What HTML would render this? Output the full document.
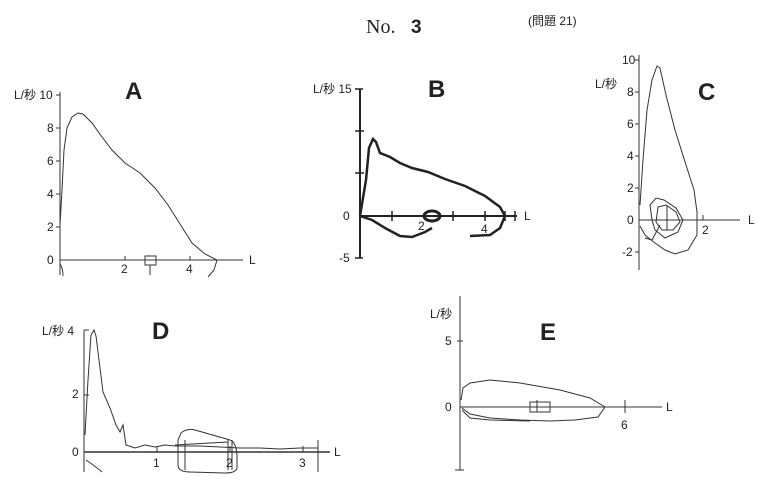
<!DOCTYPE html>
<html><head><meta charset="utf-8"><style>
body{margin:0;background:#fff;width:768px;height:488px;overflow:hidden}
svg{display:block}
text{font-family:"Liberation Sans","Noto Sans CJK JP",sans-serif;fill:#222}
</style></head><body>
<svg width="768" height="488" viewBox="0 0 768 488" xmlns="http://www.w3.org/2000/svg">
<text x="366" y="33" style="font-family:'Liberation Serif',serif" font-size="20">No.</text>
<text x="411" y="33" font-size="19" font-weight="bold">3</text>
<text x="528" y="25" font-size="12">(問題 21)</text>

<!-- A -->
<g stroke="#333" fill="none" stroke-width="1">
<line x1="60" y1="92" x2="60" y2="275"/>
<line x1="60" y1="260" x2="243" y2="260"/>
<path d="M56 95h4M56 128h4M56 161h4M56 194h4M56 227h4M125 256v4M190 256v4"/>
<path d="M60 225 L62 190 L64 150 L67 128 L72 117 L78 113 L83 114 L92 123 L102 137 L112 150 L125 163 L140 173 L155 188 L168 205 L180 224 L192 243 L205 254 L217 260 L214 270 L208 277"/>
<path d="M145 256 h11 v9 h-11 z M150 265 v10"/>
<path d="M60 264 q3 4 3 12"/>
</g>
<text x="14" y="99" font-size="12">L/秒 10</text>
<text x="47" y="132" font-size="12">8</text><text x="47" y="165" font-size="12">6</text>
<text x="47" y="198" font-size="12">4</text><text x="47" y="231" font-size="12">2</text>
<text x="47" y="264" font-size="12">0</text>
<text x="121" y="273" font-size="12">2</text><text x="186" y="273" font-size="12">4</text>
<text x="249" y="264" font-size="12">L</text>
<text x="125" y="99" font-size="24" font-weight="bold">A</text>

<!-- B -->
<g stroke="#222" fill="none">
<line x1="360" y1="89" x2="360" y2="258" stroke-width="2"/>
<line x1="360" y1="216" x2="517" y2="216" stroke-width="2"/>
<path d="M355 89h8M355 131h9M355 173h9M355 258h8M392 211v10M453 211v10M485 211v10M505 211v10M515 211v10" stroke-width="1.5"/>
<path stroke-width="2.5" d="M360 216 L366 180 L369 148 L373 139 L376 142 L380 153 L390 157 L400 163 L412 168 L428 172 L445 179 L465 186 L485 196 L500 207 L505 216"/>
<path stroke-width="2.5" d="M360 216 L372 220 L385 228 L400 236 L412 237 L425 232 L432 228 M470 236 L490 235 L500 228 L505 216"/>
<ellipse cx="432" cy="216" rx="8" ry="5" stroke-width="3"/>
</g>
<text x="313" y="93" font-size="12">L/秒 15</text>
<text x="343" y="220" font-size="12">0</text><text x="339" y="262" font-size="12">-5</text>
<text x="418" y="230" font-size="12">2</text><text x="481" y="233" font-size="12">4</text>
<text x="524" y="220" font-size="12">L</text>
<text x="428" y="97" font-size="24" font-weight="bold">B</text>

<!-- C -->
<g stroke="#333" fill="none" stroke-width="1">
<line x1="639" y1="55" x2="639" y2="270"/>
<line x1="639" y1="220" x2="740" y2="220"/>
<path d="M635 60h4M635 92h4M635 124h4M635 156h4M635 188h4M635 252h4M703 215v5"/>
<path d="M640 205 L643 160 L647 110 L652 80 L657 66 L660 68 L666 95 L675 130 L686 165 L694 190 L697 212 L697 235 L688 250 L675 254 L665 250 L655 243 L645 235 L640 226"/>
<path d="M652 220 L650 205 L656 198 L664 200 L676 208 L683 220 L678 232 L665 238 L655 230 Z"/>
<path d="M656 222 L658 207 L666 205 L676 212 L680 222 L673 230 L662 230 Z"/>
<path d="M667 205 v25 M660 225 L652 240 L645 238"/>
</g>
<text x="595" y="88" font-size="12">L/秒</text>
<text x="622" y="64" font-size="12">10</text>
<text x="627" y="96" font-size="12">8</text><text x="627" y="128" font-size="12">6</text>
<text x="627" y="160" font-size="12">4</text><text x="627" y="192" font-size="12">2</text>
<text x="627" y="224" font-size="12">0</text><text x="622" y="256" font-size="12">-2</text>
<text x="702" y="234" font-size="12">2</text><text x="748" y="224" font-size="12">L</text>
<text x="698" y="100" font-size="24" font-weight="bold">C</text>

<!-- D -->
<g stroke="#333" fill="none" stroke-width="1">
<line x1="84" y1="330" x2="84" y2="472"/>
<line x1="84" y1="452" x2="330" y2="452" stroke-width="1.5"/>
<line x1="318" y1="440" x2="318" y2="472"/>
<path d="M84 330h5M84 395h5M157 446v6M230 446v6M303 446v6"/>
<path d="M85 435 L88 380 L91 335 L94 330 L96 336 L99 360 L103 392 L110 408 L116 425 L120 432 L123 425 L126 445 L135 448 L145 445 L155 447 L165 445 L175 446 L200 446 L240 448 L260 448 L280 449 L300 448 L318 448"/>
<path d="M181 433 Q187 428 195 430 L230 440 Q236 442 237 455 L237 468 Q236 473 225 473 L190 472 Q178 472 178 465 L178 440 Z"/>
<path d="M185 440 L185 470 M175 445 L228 442 M228 440 L228 470 M232 440 L232 470"/>
<path d="M86 460 Q95 466 102 472"/>
</g>
<text x="42" y="335" font-size="12">L/秒 4</text>
<text x="72" y="398" font-size="12">2</text><text x="72" y="456" font-size="12">0</text>
<text x="153" y="467" font-size="12">1</text><text x="226" y="467" font-size="12">2</text>
<text x="299" y="467" font-size="12">3</text><text x="334" y="456" font-size="12">L</text>
<text x="152" y="339" font-size="24" font-weight="bold">D</text>

<!-- E -->
<g stroke="#333" fill="none" stroke-width="1">
<line x1="460" y1="296" x2="460" y2="470"/>
<path d="M455 470h9M457 341h6"/>
<line x1="460" y1="407" x2="662" y2="407"/>
<path d="M625 400v13"/>
<path d="M461 400 L463 388 L470 383 L490 380 L520 383 L560 390 L590 398 L605 407 L598 417 L575 420 L550 421 L520 420 L490 418 L470 414 L462 408"/>
<path d="M462 410 L470 418 L490 420 L530 421"/>
<path d="M530 402 h20 v10 h-20 z M537 400 v12"/>
</g>
<text x="430" y="318" font-size="12">L/秒</text>
<text x="445" y="345" font-size="12">5</text><text x="445" y="411" font-size="12">0</text>
<text x="621" y="429" font-size="12">6</text><text x="666" y="411" font-size="12">L</text>
<text x="540" y="340" font-size="24" font-weight="bold">E</text>
</svg>
</body></html>
